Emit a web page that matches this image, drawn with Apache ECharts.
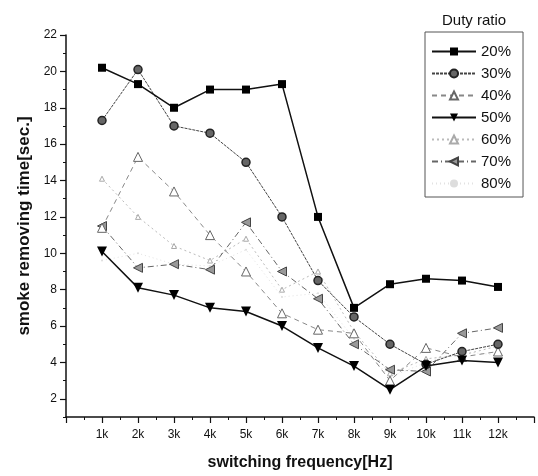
<!DOCTYPE html>
<html>
<head>
<meta charset="utf-8">
<script src="https://cdn.jsdelivr.net/npm/echarts@6/dist/echarts.min.js"></script>
<style>
  html, body { margin: 0; padding: 0; background: #fff; }
  #chart { width: 538px; height: 476px; }
</style>
</head>
<body>
<div id="chart"></div>
<script>
// switching frequency in kHz
var freqs = [1, 2, 3, 4, 5, 6, 7, 8, 9, 10, 11, 12];
var duty20 = [20.2, 19.3, 18.0, 19.0, 19.0, 19.3, 12.0, 7.0, 8.3, 8.6, 8.5, 8.15];
var duty30 = [17.3, 20.1, 17.0, 16.6, 15.0, 12.0, 8.5, 6.5, 5.0, 3.9, 4.6, 5.0];
var duty40 = [11.4, 15.3, 13.4, 11.0, 9.0, 6.7, 5.8, 5.6, 3.0, 4.8, 4.3, 4.6];
var duty50 = [10.1, 8.1, 7.7, 7.0, 6.8, 6.0, 4.8, 3.8, 2.5, 3.8, 4.1, 4.0];
var duty60 = [14.1, 12.0, 10.4, 9.6, 10.8, 8.0, 9.0, 5.7, 3.4, 4.2, 4.4, 4.9];
var duty70 = [11.5, 9.2, 9.4, 9.1, 11.7, 9.0, 7.5, 5.0, 3.6, 3.5, 5.6, 5.9];
var duty80 = [9.6, 10.0, 9.4, 9.3, 10.2, 7.6, 7.8, 5.3, 3.2, 4.0, 4.6, 4.4];
var yTickLabels = [2, 4, 6, 8, 10, 12, 14, 16, 18, 20, 22];

var font = 'Liberation Sans, Arial, sans-serif';

function pts(vals) {
    return vals.map(function (v, i) { return [freqs[i], v]; });
}

function mkSeries(name, vals, opt) {
    return Object.assign({
        name: name,
        type: 'line',
        data: pts(vals),
        yAxisIndex: 0
    }, opt);
}

var myChart = echarts.init(document.getElementById('chart'));
var option = {
    animation: false,
    backgroundColor: '#fff',
    title: {
        text: 'Duty ratio',
        left: 437,
        top: 8,
        textStyle: { fontFamily: font, fontSize: 15, fontWeight: 'normal', color: '#111' }
    },
    legend: {
        orient: 'vertical',
        left: 425,
        top: 32,
        padding: [12, 12, 6, 6],
        itemGap: 7,
        itemWidth: 44,
        itemHeight: 10,
        borderColor: '#555',
        borderWidth: 1,
        textStyle: { fontFamily: font, fontSize: 15, color: '#111' },
        data: ['20%', '30%', '40%', '50%', '60%', '70%', '80%']
    },
    grid: { left: 66, right: 4, top: 35, bottom: 58 },
    xAxis: {
        type: 'value',
        min: 0,
        max: 13,
        interval: 1,
        name: 'switching frequency[Hz]',
        nameLocation: 'middle',
        nameGap: 38,
        nameTextStyle: { fontFamily: font, fontSize: 16, fontWeight: 'bold', color: '#111' },
        axisLine: { lineStyle: { color: '#111', width: 1.5 } },
        axisTick: { inside: false, length: 6, lineStyle: { color: '#111', width: 1.2 } },
        minorTick: { show: true, splitNumber: 2, length: 3, lineStyle: { color: '#111', width: 1 } },
        splitLine: { show: false },
        axisLabel: {
            fontFamily: font, fontSize: 12, color: '#111', margin: 12,
            formatter: function (v) { return freqs.indexOf(v) >= 0 ? v + 'k' : ''; }
        }
    },
    yAxis: [{
        type: 'value',
        min: 1,
        max: 22,
        interval: 1,
        name: 'smoke removing time[sec.]',
        nameLocation: 'middle',
        nameGap: 28,
        nameTextStyle: { fontFamily: font, fontSize: 17, fontWeight: 'bold', color: '#111' },
        axisLine: { lineStyle: { color: '#111', width: 1.5 } },
        axisTick: { length: 3, lineStyle: { color: '#111', width: 1 } },
        splitLine: { show: false },
        axisLabel: {
            fontFamily: font, fontSize: 12, color: '#111', margin: 9,
            customValues: yTickLabels
        }
    }, {
        type: 'value',
        position: 'left',
        min: 1,
        max: 22,
        interval: 1,
        axisLine: { show: false },
        axisTick: { length: 6, customValues: yTickLabels, lineStyle: { color: '#111', width: 1.2 } },
        axisLabel: { show: false },
        splitLine: { show: false }
    }],
    series: [
        mkSeries('20%', duty20, {
            symbol: 'rect', symbolSize: 8,
            itemStyle: { color: '#000' },
            lineStyle: { color: '#111', width: 1.5 },
            z: 7
        }),
        mkSeries('30%', duty30, {
            symbol: 'circle', symbolSize: 8,
            itemStyle: { color: '#666', borderColor: '#222', borderWidth: 1.5 },
            lineStyle: { color: '#444', width: 1, type: [3, 1] },
            z: 6
        }),
        mkSeries('40%', duty40, {
            symbol: 'triangle', symbolSize: 9,
            itemStyle: { color: '#fff', borderColor: '#666', borderWidth: 1 },
            lineStyle: { color: '#888', width: 1, type: [5, 4] },
            z: 5
        }),
        mkSeries('50%', duty50, {
            symbol: 'triangle', symbolRotate: 180, symbolSize: 10,
            itemStyle: { color: '#000' },
            lineStyle: { color: '#111', width: 1.5 },
            z: 7
        }),
        mkSeries('60%', duty60, {
            symbol: 'triangle', symbolSize: 5,
            itemStyle: { color: '#fff', borderColor: '#aaa', borderWidth: 1 },
            lineStyle: { color: '#bbb', width: 1, type: [2, 3] },
            z: 3
        }),
        mkSeries('70%', duty70, {
            symbol: 'triangle', symbolRotate: 90, symbolSize: 9,
            itemStyle: { color: '#999', borderColor: '#444', borderWidth: 1 },
            lineStyle: { color: '#666', width: 1, type: [6, 3, 1, 3] },
            z: 4
        }),
        mkSeries('80%', duty80, {
            symbol: 'circle', symbolSize: 2,
            itemStyle: { color: '#ddd' },
            lineStyle: { color: '#e2e2e2', width: 1, type: [1, 3] },
            z: 2
        })
    ]
};
myChart.setOption(option);
</script>
</body>
</html>
